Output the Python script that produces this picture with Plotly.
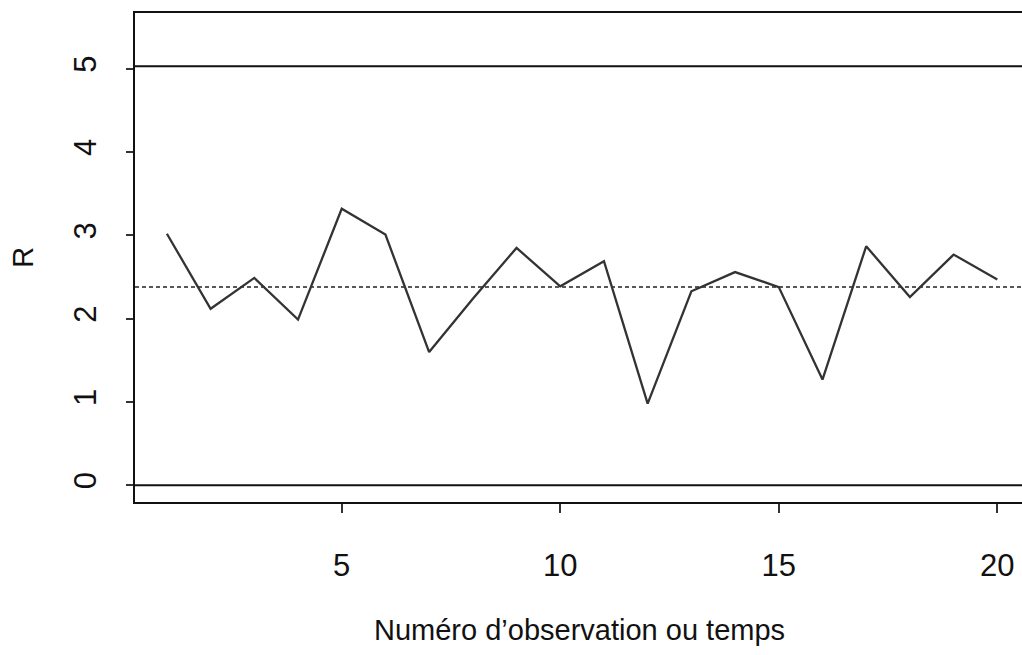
import plotly.graph_objects as go

# Étendue R par échantillon (carte de contrôle R)
obs = list(range(1, 21))
r_values = [3.02, 2.12, 2.49, 1.99, 3.32, 3.01, 1.60, 2.24, 2.85, 2.39,
            2.69, 0.98, 2.33, 2.56, 2.38, 1.27, 2.87, 2.26, 2.77, 2.47]

# Limites de contrôle et ligne centrale
r_bar = 2.38
ucl = 5.03
lcl = 0.0

x_ticks = [5, 10, 15, 20]
y_ticks = [0, 1, 2, 3, 4, 5]

FONT = "Liberation Sans, Arial, Helvetica, sans-serif"
TICK_FS = 31
TITLE_FS = 29

fig = go.Figure()

x_lo, x_hi = 0.27, 20.565

for level in (ucl, lcl):
    fig.add_trace(go.Scatter(x=[x_lo, x_hi], y=[level, level], mode="lines",
                             line=dict(color="#111111", width=2),
                             hoverinfo="skip", showlegend=False))

fig.add_trace(go.Scatter(x=[x_lo, x_hi], y=[r_bar, r_bar], mode="lines",
                         line=dict(color="#222222", width=1.6, dash="4px,3px"),
                         hoverinfo="skip", showlegend=False))

fig.add_trace(go.Scatter(x=obs, y=r_values, mode="lines",
                         line=dict(color="#333333", width=2.3),
                         showlegend=False))

fig.update_layout(
    width=1022, height=655,
    margin=dict(l=135, r=0, t=13, b=153),
    paper_bgcolor="white", plot_bgcolor="white",
    font=dict(family=FONT, size=TICK_FS, color="#111111"),
    xaxis=dict(range=[x_lo, x_hi], tickvals=x_ticks, ticktext=[str(v) for v in x_ticks],
               showgrid=False, zeroline=False, showline=True, mirror=True,
               linecolor="#111111", linewidth=2,
               ticks="outside", ticklen=9, tickwidth=1.5, tickcolor="#333333",
               ticklabelstandoff=26, tickfont=dict(size=TICK_FS)),
    yaxis=dict(range=[-0.2, 5.67], tickvals=y_ticks, ticktext=[str(v) for v in y_ticks],
               showgrid=False, zeroline=False, showline=True, mirror=False,
               linecolor="#111111", linewidth=2,
               ticks="outside", ticklen=7, tickwidth=1.5, tickcolor="#333333",
               tickangle=-90, ticklabelstandoff=18, tickfont=dict(size=TICK_FS)),
    annotations=[
        dict(text="Numéro d\u2019observation ou temps", xref="paper", yref="paper",
             x=0.267, y=-0.2618, xanchor="left", yanchor="middle",
             showarrow=False, font=dict(size=TITLE_FS)),
        dict(text="R", xref="paper", yref="paper", x=-0.127, y=0.5,
             xanchor="center", yanchor="middle", textangle=-90,
             showarrow=False, font=dict(size=TITLE_FS)),
    ],
)

fig.write_html("out.html")
